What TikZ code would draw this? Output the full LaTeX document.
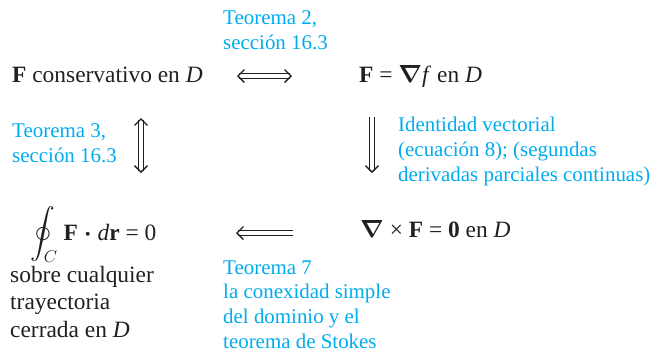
\documentclass[tikz,border=0pt]{standalone}
\usepackage{amsmath,bm}
\usepackage{fontspec}
\setmainfont{Liberation Serif}
\usetikzlibrary{arrows.meta}
\definecolor{cy}{RGB}{0,172,238}
\definecolor{ink}{RGB}{35,31,32}
\begin{document}
\begin{tikzpicture}[x=1bp,y=-1bp,
  lab/.style={text=cy, font=\fontsize{21}{24.7}\selectfont, align=left, anchor=base west, inner sep=0},
  mainbox/.style={text=ink, font=\fontsize{23.5}{27.5}\selectfont, align=left, anchor=base west, inner sep=0},
  dbl/.style={draw=ink, double, double distance=3.4bp, line width=1.25bp, -{Straight Barb[length=6.5bp,width=13bp]}},
  dblboth/.style={dbl, {Straight Barb[length=6.5bp,width=13bp]}-{Straight Barb[length=6.5bp,width=13bp]}}
]
\useasboundingbox (0,0) rectangle (656,353);
% statements (base anchor = baseline of last line)
\node[mainbox] (cons) at (12,82) {\textbf{F} conservativo en \textit{D}};
\node[mainbox] (grad) at (359,82) {\textbf{F} = $\boldsymbol{\nabla}$\textit{f} en \textit{D}};
\node[mainbox] (integ) at (30,240) {$\displaystyle\oint_C$ \textbf{F} $\boldsymbol{\cdot}$ \textit{d}\textbf{r} = 0};
\node[mainbox] (sobre) at (10,337) {sobre cualquier\\trayectoria\\cerrada en \textit{D}};
\node[mainbox] (curl) at (360,237) {$\boldsymbol{\nabla}$ × \textbf{F} = \textbf{0} en \textit{D}};
% labels
\node[lab] (t2) at (223,49) {Teorema 2,\\sección 16.3};
\node[lab] (t3) at (12,162) {Teorema 3,\\sección 16.3};
\node[lab] (ident) at (398,181) {Identidad vectorial\\(ecuación 8); (segundas\\derivadas parciales continuas)};
\node[lab] (t7) at (223,348) {Teorema 7\\la conexidad simple\\del dominio y el\\teorema de Stokes};
% arrow ends
\coordinate (a1) at (237,76);
\coordinate (a2) at (292,76);
\coordinate (b1) at (141,118);
\coordinate (b2) at (141,173);
\coordinate (c1) at (372,117);
\coordinate (c2) at (372,173);
\coordinate (d1) at (293,233);
\coordinate (d2) at (236,233);
\draw[dblboth] (a1) -- (a2);
\draw[dblboth] (b1) -- (b2);
\draw[dbl] (c1) -- (c2);
\draw[dbl] (d1) -- (d2);
\end{tikzpicture}
\end{document}
